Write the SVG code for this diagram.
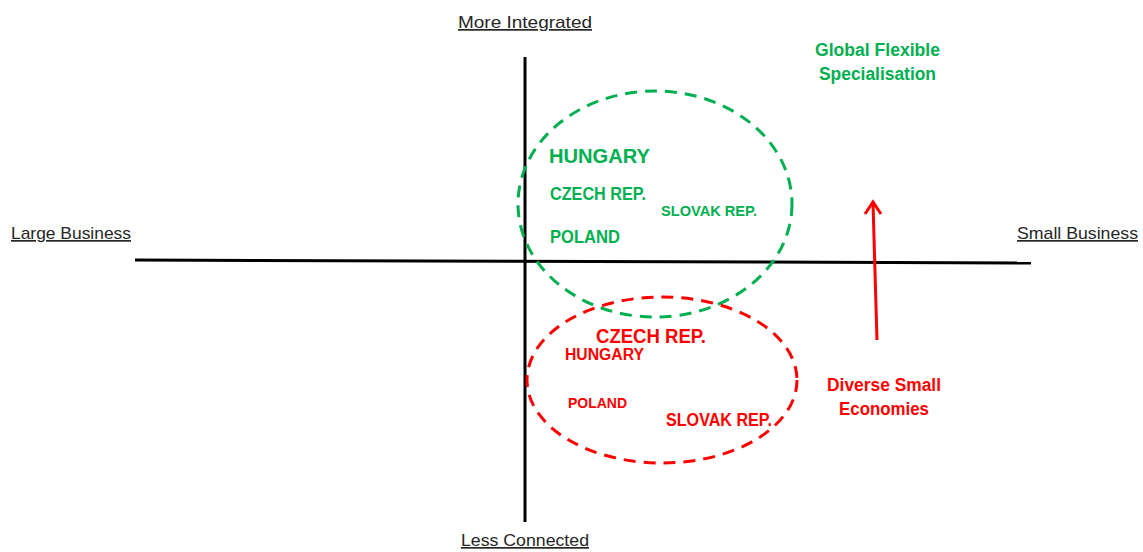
<svg xmlns="http://www.w3.org/2000/svg" width="1143" height="552" viewBox="0 0 1143 552">
<style>
.ax{font-family:"Liberation Sans",Arial,sans-serif;font-size:17px;fill:#262626;text-decoration:underline}
.g{font-family:"Liberation Sans",Arial,sans-serif;font-weight:bold;fill:#00B050}
.r{font-family:"Liberation Sans",Arial,sans-serif;font-weight:bold;fill:#FF0000}
.axis{stroke:#000;stroke-width:3;fill:none}
.dash{fill:none;stroke-width:3;stroke-dasharray:12 8}
</style>
<rect width="1143" height="552" fill="#fff"/>
<g id="connectors">
<line class="axis" x1="135" y1="260" x2="1031" y2="263"/>
<line class="axis" x1="525" y1="57" x2="525" y2="522"/>
<line x1="877" y1="340" x2="873" y2="203" stroke="#FF0000" stroke-width="3"/>
<polyline points="865,214 873,202 881,214" fill="none" stroke="#FF0000" stroke-width="3"/>
</g>
<g id="green-cluster">
<ellipse class="dash" cx="655" cy="204" rx="137" ry="113" stroke="#00B050"/>
<text class="g" x="549" y="163" font-size="21" textLength="101" lengthAdjust="spacingAndGlyphs">HUNGARY</text>
<text class="g" x="550" y="200" font-size="17.5" textLength="96" lengthAdjust="spacingAndGlyphs">CZECH REP.</text>
<text class="g" x="661" y="216" font-size="15" textLength="96" lengthAdjust="spacingAndGlyphs">SLOVAK REP.</text>
<text class="g" x="550" y="243" font-size="18" textLength="70" lengthAdjust="spacingAndGlyphs">POLAND</text>
</g>
<g id="red-cluster">
<ellipse class="dash" cx="662" cy="380" rx="135" ry="83" stroke="#FF0000"/>
<text class="r" x="596" y="343" font-size="21" textLength="110" lengthAdjust="spacingAndGlyphs">CZECH REP.</text>
<text class="r" x="565" y="360" font-size="16" textLength="79" lengthAdjust="spacingAndGlyphs">HUNGARY</text>
<text class="r" x="568" y="408" font-size="15" textLength="59" lengthAdjust="spacingAndGlyphs">POLAND</text>
<text class="r" x="666" y="426" font-size="18.5" textLength="106" lengthAdjust="spacingAndGlyphs">SLOVAK REP.</text>
</g>
<g id="label-more-integrated"><text class="ax" x="458" y="28" textLength="134" lengthAdjust="spacingAndGlyphs">More Integrated</text></g>
<g id="label-less-connected"><text class="ax" x="461" y="546" textLength="128" lengthAdjust="spacingAndGlyphs">Less Connected</text></g>
<g id="label-large-business"><text class="ax" x="11" y="239" textLength="120" lengthAdjust="spacingAndGlyphs">Large Business</text></g>
<g id="label-small-business"><text class="ax" x="1017" y="239" textLength="121" lengthAdjust="spacingAndGlyphs">Small Business</text></g>
<g id="label-global">
<text class="g" x="815" y="56" font-size="17.5" textLength="125" lengthAdjust="spacingAndGlyphs">Global Flexible</text>
<text class="g" x="819" y="80" font-size="17.5" textLength="117" lengthAdjust="spacingAndGlyphs">Specialisation</text>
</g>
<g id="label-diverse">
<text class="r" x="827" y="391" font-size="17.5" textLength="114" lengthAdjust="spacingAndGlyphs">Diverse Small</text>
<text class="r" x="839" y="415" font-size="17.5" textLength="90" lengthAdjust="spacingAndGlyphs">Economies</text>
</g>
</svg>
